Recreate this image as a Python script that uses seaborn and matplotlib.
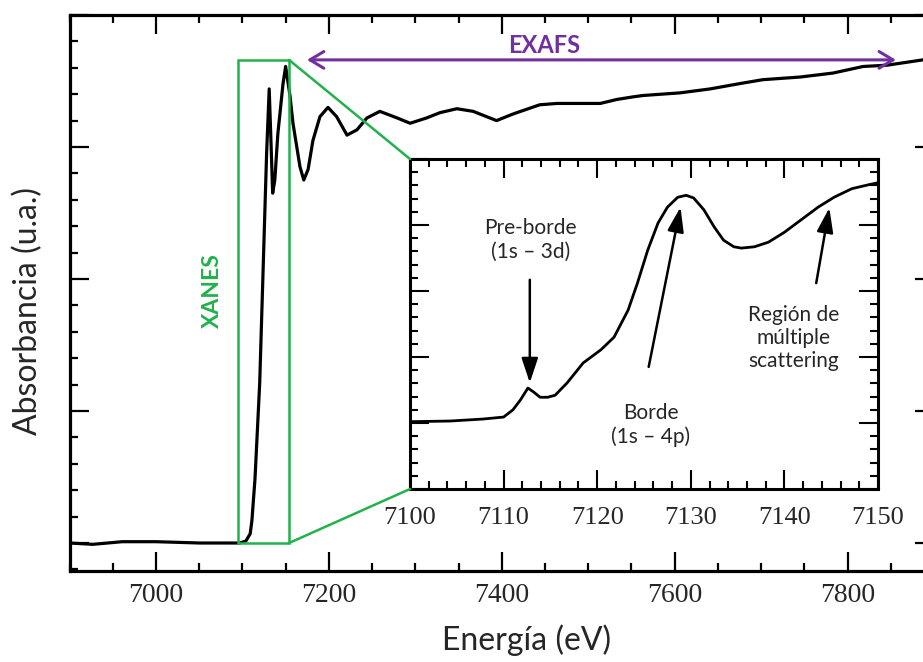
import matplotlib
matplotlib.use("Agg")
import matplotlib.pyplot as plt
from matplotlib.patches import Rectangle, ConnectionPatch
from matplotlib.ticker import MultipleLocator
import seaborn as sns
import pandas as pd

# ---------------- data ----------------
main_energy = [6900, 6927, 6961, 7000, 7051, 7097, 7104, 7109, 7111, 7114.6, 7120, 7124,
               7128, 7131, 7133, 7135, 7137.5, 7141, 7147, 7150, 7155, 7158.5, 7166.6,
               7171, 7176, 7181.6, 7189.7, 7199, 7209, 7221, 7232.5, 7244, 7259, 7279,
               7294, 7313, 7328.5, 7348, 7367, 7394, 7413, 7444, 7464, 7475, 7514, 7533,
               7552, 7563, 7606, 7641, 7675, 7702, 7745, 7783, 7818, 7846, 7887, 7900]
main_absorb = [0.00, -0.01, 0.01, 0.01, 0.00, 0.00, 0.015, 0.07, 0.17, 0.49, 1.21, 2.08,
               2.95, 3.44, 3.05, 2.65, 2.75, 3.10, 3.48, 3.61, 3.39, 3.18, 2.85,
               2.75, 2.83, 3.05, 3.23, 3.30, 3.23, 3.09, 3.13, 3.22, 3.27, 3.22,
               3.18, 3.22, 3.26, 3.29, 3.27, 3.20, 3.25, 3.32, 3.33, 3.33, 3.33, 3.36,
               3.38, 3.39, 3.41, 3.44, 3.48, 3.51, 3.53, 3.56, 3.61, 3.62, 3.66, 3.67]

inset_energy = [7100.0, 7104.3, 7107.8, 7110.0, 7111.0, 7111.8, 7112.6, 7113.2, 7113.9,
                7114.7, 7115.5, 7116.8, 7118.5, 7120.4, 7121.8, 7123.3, 7124.3, 7125.4,
                7126.5, 7127.5, 7128.6, 7129.5, 7130.3, 7131.4, 7132.5, 7133.5, 7134.6,
                7135.4, 7136.8, 7138.3, 7140.0, 7141.8, 7143.6, 7145.3, 7147.2, 7149.0, 7150.0]
inset_absorb = [1.02, 1.03, 1.06, 1.09, 1.20, 1.35, 1.53, 1.47, 1.39,
                1.39, 1.42, 1.61, 1.91, 2.11, 2.30, 2.71, 3.12, 3.62,
                4.03, 4.27, 4.42, 4.45, 4.41, 4.23, 3.97, 3.77, 3.67,
                3.65, 3.67, 3.74, 3.89, 4.08, 4.27, 4.42, 4.55, 4.61, 4.64]

main_xticks = [7000, 7200, 7400, 7600, 7800]
inset_xticks = [7100, 7110, 7120, 7130, 7140, 7150]

xanes_range = [7094.9, 7153.9]
xanes_top = 3.66
exafs_range = [7174.7, 7856]
exafs_y = 3.66

GREEN = "#22B14C"
PURPLE = "#7030A0"

# ---------------- figure ----------------
sns.set_theme(style="ticks")
plt.rcParams["font.family"] = ["Lato", "DejaVu Sans"]

W, H = 923, 662
fig = plt.figure(figsize=(W / 100, H / 100), dpi=100)
fig.patch.set_facecolor("white")

# main axes (right edge extends beyond the picture, as in the reference)
ax = fig.add_axes([69.5 / W, (H - 571) / H, 864.5 / W, 556 / H])
df_main = pd.DataFrame({"Energía": main_energy, "Abs": main_absorb})
sns.lineplot(data=df_main, x="Energía", y="Abs", ax=ax, color="black", lw=2.3,
             estimator=None, sort=False)
ax.set_xlim(6900, 7900)
ax.set_ylim(-0.212, 4.0)
ax.set_xticks(main_xticks)
ax.set_xticklabels([str(t) for t in main_xticks])
ax.xaxis.set_minor_locator(MultipleLocator(50))
ax.yaxis.set_major_locator(MultipleLocator(1))
ax.yaxis.set_minor_locator(MultipleLocator(0.2))
ax.tick_params(which="both", direction="in", top=True, right=True, width=1.6,
               color="black", labelleft=False)
ax.tick_params(which="major", length=14)
ax.tick_params(which="minor", length=6)
ax.tick_params(axis="x", which="major", pad=9, labelsize=20)
for lab in ax.get_xticklabels():
    lab.set_fontfamily("Liberation Serif")
for sp in ax.spines.values():
    sp.set_linewidth(2.3)
    sp.set_color("black")

ax.set_xlabel("Energía (eV)", fontsize=23, va="center")
ax.xaxis.set_label_coords((527 - 69.5) / 864.5, (571 - 640) / 556)
ax.set_ylabel("Absorbancia (u.a.)", fontsize=23, va="center")
ax.yaxis.set_label_coords((28 - 69.5) / 864.5, (571 - 311) / 556)

# XANES box
rect = Rectangle((xanes_range[0], 0.0), xanes_range[1] - xanes_range[0], xanes_top,
                 fill=False, ec=GREEN, lw=1.8, zorder=3)
ax.add_patch(rect)
ax.text(7065, 1.91, "XANES", rotation=90, color=GREEN, fontsize=16.5,
        fontweight="bold", ha="center", va="center")

# EXAFS arrow
ax.annotate("", xy=(exafs_range[1], exafs_y), xytext=(exafs_range[0], exafs_y),
            arrowprops=dict(arrowstyle="<->,head_length=0.5,head_width=0.3",
                            color=PURPLE, lw=2.2, mutation_scale=20,
                            shrinkA=0, shrinkB=0))
ax.text(7449, 3.77, "EXAFS", color=PURPLE, fontsize=17, fontweight="bold",
        ha="center", va="center")

# ---------------- inset ----------------
axin = fig.add_axes([410 / W, (H - 489) / H, 468 / W, 330 / H])
axin.set_facecolor("white")
df_in = pd.DataFrame({"E": inset_energy, "A": inset_absorb})
sns.lineplot(data=df_in, x="E", y="A", ax=axin, color="black", lw=2.0,
             estimator=None, sort=False)
axin.set_xlim(7100, 7150)
axin.set_ylim(0, 5)
axin.set_xticks(inset_xticks)
axin.set_xticklabels([str(t) for t in inset_xticks])
axin.xaxis.set_minor_locator(MultipleLocator(2))
axin.yaxis.set_major_locator(MultipleLocator(1))
axin.yaxis.set_minor_locator(MultipleLocator(0.2))
axin.tick_params(which="both", direction="in", top=True, right=True, width=1.5,
                 color="black", labelleft=False)
axin.tick_params(which="major", length=14)
axin.tick_params(which="minor", length=6)
axin.tick_params(axis="x", which="major", pad=13, labelsize=19)
for lab in axin.get_xticklabels():
    lab.set_fontfamily("Liberation Serif")
axin.set_xlabel("")
axin.set_ylabel("")
for sp in axin.spines.values():
    sp.set_linewidth(2.2)
    sp.set_color("black")

arrow_kw = dict(arrowstyle="-|>,head_length=0.75,head_width=0.25", color="black",
                lw=1.8, mutation_scale=20, shrinkA=0, shrinkB=0)

axin.text(7112.9, 3.78, "Pre-borde\n(1s – 3d)", ha="center", va="center",
          fontsize=15, linespacing=1.25)
axin.annotate("", xy=(7112.8, 1.61), xytext=(7112.8, 3.17), arrowprops=arrow_kw)

axin.text(7125.7, 0.97, "Borde\n(1s – 4p)", ha="center", va="center", fontsize=15,
          linespacing=1.25)
axin.annotate("", xy=(7128.9, 4.27), xytext=(7125.5, 1.85), arrowprops=arrow_kw)

axin.text(7141.0, 2.29, "Región de\nmúltiple\nscattering", ha="center", va="center",
          fontsize=15, linespacing=1.2)
axin.annotate("", xy=(7144.8, 4.26), xytext=(7143.4, 3.12), arrowprops=arrow_kw)

# connector lines from the XANES box to the inset
for yA, yB in [(xanes_top, 1.0), (0.0, 0.0)]:
    con = ConnectionPatch(xyA=(xanes_range[1], yA), coordsA=ax.transData,
                          xyB=(0.0, yB), coordsB=axin.transAxes,
                          color=GREEN, lw=1.8, zorder=5)
    fig.add_artist(con)

fig.savefig("out.png", dpi=100, facecolor="white")
